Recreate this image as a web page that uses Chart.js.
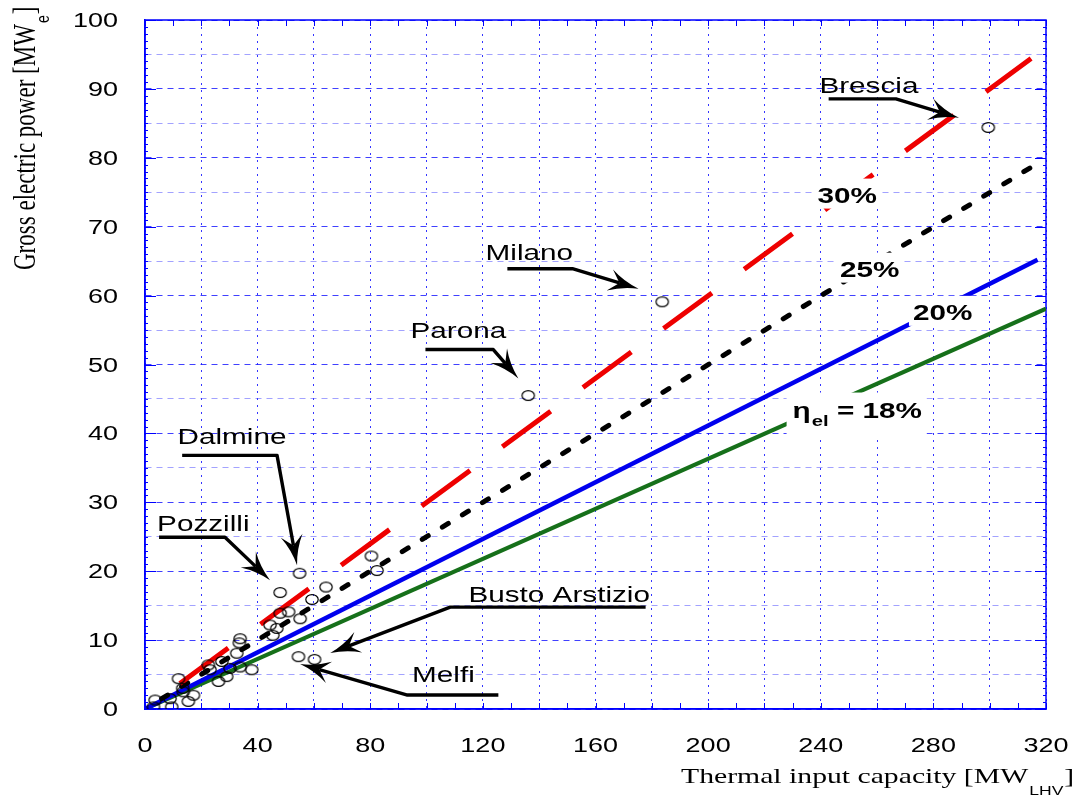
<!DOCTYPE html>
<html>
<head>
<meta charset="utf-8">
<script src="https://cdn.jsdelivr.net/npm/chart.js@4.4.1/dist/chart.umd.min.js"></script>
<style>
html,body{margin:0;padding:0;background:#ffffff;}
canvas{display:block;}
</style>
</head>
<body>
<canvas id="c" width="1075" height="796"></canvas>
<script>
// ---------- DATA ----------
// Plants: thermal input [MW_LHV] vs gross electric power [MWe]
const plantX = [3.0,3.6,8.9,9.5,11.9,13.4,13.6,15.4,17.2,22.5,23.1,26.1,27.3,29.0,30.2,32.6,33.5,33.8,33.8,37.9,44.4,45.4,46.8,48.0,51.0,55.1,48.0,54.9,59.3,64.3,80.4,82.4,54.5,60.2,136.1,183.7,299.5];
const plantY = [0.3,1.3,1.5,0.3,4.4,3.0,2.5,1.1,2.0,6.4,5.7,4.0,6.9,4.7,5.9,8.1,9.6,10.2,6.1,5.7,12.2,10.7,11.7,13.9,14.1,13.1,16.9,19.7,15.9,17.7,22.2,20.1,7.6,7.2,45.5,59.1,84.4];

// Efficiency lines (end points)
const eff30X = [12.4, 314.7]; const eff30Y = [3.7, 94.4];
const eff25X = [5.9, 315.8];  const eff25Y = [1.5, 78.9];
const eff20X = [0, 317];      const eff20Y = [0, 65.2];
const eff18X = [0, 320];      const eff18Y = [0, 58.1];

// Tick labels
const xTickLabels = ['0','40','80','120','160','200','240','280','320'];
const yTickLabels = ['0','10','20','30','40','50','60','70','80','90','100'];

// Plant name annotations (text baseline position in data units)
const plantNames = ['Brescia','Milano','Parona','Dalmine','Pozzilli','Busto Arstizio','Melfi'];
const nameX = [257.1, 136.5, 111.3, 30.9, 20.7, 147.1, 106.0];
const nameY = [89.46, 65.17, 53.87, 38.5, 25.9, 15.55, 3.96];
// Leader arrows (data units): start, bend, tip
const arrowX = [[242.8,266.7,289.1],[128.7,151.8,175.3],[99.6,123.7,132.6],[13.2,46.9,54.0],[5.0,28.4,44.4],[177.8,108.4,65.8],[125.5,93.2,55.1]];
const arrowY = [[88.55,88.55,85.8],[63.9,63.9,61.0],[52.17,52.17,47.97],[36.81,36.81,20.87],[24.93,24.93,18.7],[14.78,14.78,8.12],[2.03,2.03,6.52]];

// Efficiency labels
const effLabels = ['30%','25%','20%'];
const effLabelX = [249.4, 257.4, 283.3];
const effLabelY = [73.5, 62.75, 56.48];
const eff18LabelX = 230.0, eff18LabelY = 42.3;

// ---------- helpers ----------
const SX = 1.35; // horizontal stretch of the original picture
const AXIS_BLUE = '#0000ff';

function sText(ctx, txt, x, y, font, align) {
  ctx.save();
  ctx.font = font;
  ctx.textBaseline = 'alphabetic';
  ctx.textAlign = 'left';
  const w = ctx.measureText(txt).width * SX;
  let x0 = x;
  if (align === 'center') x0 = x - w / 2;
  else if (align === 'right') x0 = x - w;
  ctx.translate(x0, y);
  ctx.scale(SX, 1);
  ctx.fillStyle = '#000';
  ctx.fillText(txt, 0, 0);
  ctx.restore();
  return w;
}
function sWidth(ctx, txt, font) {
  ctx.save(); ctx.font = font;
  const w = ctx.measureText(txt).width * SX;
  ctx.restore(); return w;
}

function drawArrow(ctx, pts) {
  const n = pts.length;
  const tip = pts[n - 1], prev = pts[n - 2];
  const ang = Math.atan2(tip.y - prev.y, tip.x - prev.x);
  const c = Math.cos(ang), s = Math.sin(ang);
  const L = 30, W = 11, notch = 10;
  const nb = {x: tip.x - c * (L - notch), y: tip.y - s * (L - notch)};
  ctx.save();
  ctx.strokeStyle = '#000';
  ctx.lineWidth = 3.4;
  ctx.lineJoin = 'round';
  ctx.beginPath();
  ctx.moveTo(pts[0].x, pts[0].y);
  for (let i = 1; i < n - 1; i++) ctx.lineTo(pts[i].x, pts[i].y);
  ctx.lineTo(nb.x, nb.y);
  ctx.stroke();
  const back = {x: tip.x - c * L, y: tip.y - s * L};
  ctx.fillStyle = '#000';
  ctx.beginPath();
  ctx.moveTo(tip.x, tip.y);
  ctx.quadraticCurveTo(tip.x - c * L * 0.55 - s * W * 0.25, tip.y - s * L * 0.55 + c * W * 0.25, back.x - s * W, back.y + c * W);
  ctx.lineTo(nb.x, nb.y);
  ctx.lineTo(back.x + s * W, back.y - c * W);
  ctx.quadraticCurveTo(tip.x - c * L * 0.55 + s * W * 0.25, tip.y - s * L * 0.55 - c * W * 0.25, tip.x, tip.y);
  ctx.closePath();
  ctx.fill();
  ctx.restore();
}

// open ellipse marker (picture is stretched horizontally)
const marker = document.createElement('canvas');
marker.width = 16; marker.height = 13;
(function(){
  const m = marker.getContext('2d');
  m.strokeStyle = '#000'; m.lineWidth = 1.2;
  m.beginPath(); m.ellipse(8, 6.5, 6.2, 4.9, 0, 0, Math.PI * 2); m.stroke();
})();

function pairs(xs, ys) { return xs.map((x, i) => ({x: x, y: ys[i]})); }

// ---------- plugin for decorations ----------
const deco = {
  id: 'deco',
  beforeDatasetsDraw(chart) {
    const ctx = chart.ctx, a = chart.chartArea;
    const xs = chart.scales.x, ys = chart.scales.y;
    ctx.save();
    ctx.strokeStyle = AXIS_BLUE;
    ctx.lineWidth = 1.5;
    ctx.strokeRect(a.left, a.top, a.right - a.left, a.bottom - a.top);
    ctx.lineWidth = 1;
    ctx.beginPath();
    for (let v = 0; v <= 320; v += 10) {
      const px = Math.round(xs.getPixelForValue(v)) + 0.5;
      ctx.moveTo(px, a.bottom); ctx.lineTo(px, a.bottom - 6);
      ctx.moveTo(px, a.top); ctx.lineTo(px, a.top + 6);
    }
    for (let v = 0; v <= 100; v += 1) {
      const py = Math.round(ys.getPixelForValue(v)) + 0.5;
      const len = (v % 10 === 0) ? 11 : 3;
      ctx.moveTo(a.left, py); ctx.lineTo(a.left + len, py);
      ctx.moveTo(a.right, py); ctx.lineTo(a.right - len, py);
    }
    ctx.stroke();
    ctx.restore();
  },
  afterDatasetsDraw(chart) {
    const ctx = chart.ctx, a = chart.chartArea;
    const xs = chart.scales.x, ys = chart.scales.y;
    const X = v => xs.getPixelForValue(v), Y = v => ys.getPixelForValue(v);

    // efficiency labels with white boxes
    const bold = 'bold 22px "Liberation Sans", Arial, sans-serif';
    effLabels.forEach((t, i) => {
      const cx = X(effLabelX[i]), by = Y(effLabelY[i]);
      const w = sWidth(ctx, t, bold);
      ctx.fillStyle = '#fff';
      ctx.fillRect(cx - w / 2 - 4, by - 24, w + 8, 30);
      sText(ctx, t, cx, by, bold, 'center');
    });
    // eta_el = 18%
    {
      const x0 = X(eff18LabelX), by = Y(eff18LabelY);
      ctx.fillStyle = '#fff';
      ctx.fillRect(x0 - 6, by - 25, 140, 46);
      let x = x0;
      x += sText(ctx, 'η', x, by, bold, 'left');
      x += sText(ctx, 'el', x + 1, by + 8, 'bold 15px "Liberation Sans", Arial, sans-serif', 'left') + 1;
      sText(ctx, ' = 18%', x, by, bold, 'left');
    }

    // plant names + arrows
    const nf = '22px "Liberation Sans", Arial, sans-serif';
    plantNames.forEach((t, i) => {
      sText(ctx, t, X(nameX[i]), Y(nameY[i]), nf, 'center');
      const pts = arrowX[i].map((vx, k) => ({x: X(vx), y: Y(arrowY[i][k])}));
      drawArrow(ctx, pts);
    });
  },
  afterDraw(chart) {
    const ctx = chart.ctx, a = chart.chartArea;
    const xs = chart.scales.x, ys = chart.scales.y;
    const tf = '20px "Liberation Sans", Arial, sans-serif';
    // tick labels
    xTickLabels.forEach(l => {
      sText(ctx, l, xs.getPixelForValue(Number(l)), 752, tf, 'center');
    });
    yTickLabels.forEach(l => {
      sText(ctx, l, 118, ys.getPixelForValue(Number(l)) + 7, tf, 'right');
    });
    // x title
    const serif = '22px "Liberation Serif", "Times New Roman", serif';
    const sub = '13px "Liberation Sans", Arial, sans-serif';
    let x = 681;
    x += sText(ctx, 'Thermal input capacity [MW', x, 783, serif, 'left');
    x += sText(ctx, 'LHV', x + 1, 795, sub, 'left') + 2;
    sText(ctx, ']', x, 783, serif, 'left');
    // y title (rotated)
    ctx.save();
    ctx.translate(35, 270);
    ctx.scale(SX, 1);
    ctx.rotate(-Math.PI / 2);
    ctx.fillStyle = '#000';
    ctx.textBaseline = 'alphabetic';
    ctx.font = '23px "Liberation Serif", "Times New Roman", serif';
    const t1 = 'Gross electric power [MW';
    ctx.fillText(t1, 0, 0);
    let p = ctx.measureText(t1).width;
    ctx.font = '14px "Liberation Sans", Arial, sans-serif';
    ctx.fillText('e', p + 1, 10);
    p += ctx.measureText('e').width + 2;
    ctx.font = '23px "Liberation Serif", "Times New Roman", serif';
    ctx.fillText(']', p, 0);
    ctx.restore();
  }
};

// ---------- chart ----------
new Chart(document.getElementById('c'), {
  type: 'scatter',
  data: {
    datasets: [
      {
        label: 'Plants',
        data: pairs(plantX, plantY),
        pointStyle: marker,
        pointRadius: 6,
        pointHoverRadius: 6,
        showLine: false,
        order: 0
      },
      {
        label: 'η = 30%',
        data: pairs(eff30X, eff30Y),
        showLine: true, pointRadius: 0,
        borderColor: '#ee0000', borderWidth: 5,
        borderDash: [60, 40], borderCapStyle: 'butt',
        order: 1
      },
      {
        label: 'η = 25%',
        data: pairs(eff25X, eff25Y),
        showLine: true, pointRadius: 0,
        borderColor: '#000000', borderWidth: 5,
        borderDash: [7, 16.5], borderCapStyle: 'round',
        order: 2
      },
      {
        label: 'η = 20%',
        data: pairs(eff20X, eff20Y),
        showLine: true, pointRadius: 0,
        borderColor: '#0000ee', borderWidth: 4.5,
        order: 3
      },
      {
        label: 'η = 18%',
        data: pairs(eff18X, eff18Y),
        showLine: true, pointRadius: 0,
        borderColor: '#16701a', borderWidth: 4,
        order: 4
      }
    ]
  },
  options: {
    responsive: false,
    animation: false,
    devicePixelRatio: 1,
    layout: {padding: {left: 145, top: 20, right: 29, bottom: 87}},
    plugins: {legend: {display: false}, tooltip: {enabled: false}},
    events: [],
    scales: {
      x: {
        type: 'linear', min: 0, max: 320,
        ticks: {stepSize: 20, display: false, autoSkip: false},
        grid: {color: 'rgba(30,30,255,0.9)', lineWidth: 1, drawTicks: false},
        border: {display: true, color: AXIS_BLUE, width: 1.5, dash: [2, 5]}
      },
      y: {
        type: 'linear', min: 0, max: 100,
        ticks: {stepSize: 5, display: false, autoSkip: false},
        grid: {
          color: c => (c.tick && c.tick.value % 10 === 0) ? 'rgba(30,30,255,0.85)' : 'rgba(70,70,255,0.5)',
          lineWidth: 1, drawTicks: false
        },
        border: {display: true, color: AXIS_BLUE, width: 1.5, dash: [6, 5]}
      }
    }
  },
  plugins: [deco]
});
</script>
</body>
</html>
